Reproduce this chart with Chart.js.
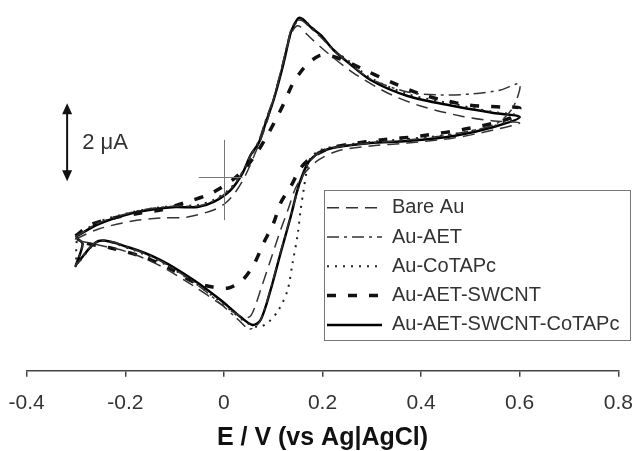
<!DOCTYPE html>
<html>
<head>
<meta charset="utf-8">
<script src="https://cdn.jsdelivr.net/npm/chart.js@4"></script>
<style>
  html, body { margin: 0; padding: 0; background: #fff; }
  canvas { display: block; }
</style>
</head>
<body>
<canvas id="c" width="634" height="451"></canvas>
<script>
// ---- Data (E in V vs Ag|AgCl, I in µA; loops traced along each CV) ----
const seriesNames = ['Bare Au', 'Au-AET', 'Au-CoTAPc', 'Au-AET-SWCNT', 'Au-AET-SWCNT-CoTAPc'];

const bareAuE = [-0.301,-0.2542,-0.1852,-0.1284,-0.0736,-0.0209,0.0034,0.0237,0.0440,0.0602,0.0744,0.0886,0.1028,0.1170,0.1292,0.1393,0.1475,0.1556,0.1698,0.2103,0.2631,0.3321,0.3990,0.4801,0.5471,0.6,
  0.5471,0.4659,0.3726,0.2976,0.2306,0.1921,0.1657,0.1454,0.1312,0.1150,0.0947,0.0744,0.0643,0.0542,0.0420,0.0258,-0.0067,-0.0615,-0.1284,-0.1953,-0.2542,-0.301];
const bareAuI = [-1.582,-1.326,-1.121,-1.044,-1.018,-0.838,-0.659,-0.377,0.059,0.521,0.956,1.469,2.110,2.803,3.392,3.751,3.879,3.854,3.649,3.187,2.674,2.162,1.828,1.572,1.444,1.392,
  1.213,1.008,0.879,0.803,0.674,0.444,0.136,-0.274,-0.787,-1.351,-2.121,-2.890,-3.274,-3.556,-3.608,-3.505,-3.249,-2.787,-2.274,-1.915,-1.736,-1.608];

const auAetE = [-0.301,-0.2542,-0.1852,-0.1386,-0.0980,-0.0533,-0.0209,0.0136,0.0379,0.0542,0.0704,0.0846,0.1008,0.1191,0.1353,0.1434,0.1495,0.1596,0.1759,0.1961,0.2225,0.2509,0.2976,0.3726,0.4395,0.5004,0.5613,0.6,
  0.5856,0.5511,0.4659,0.3726,0.2976,0.2306,0.1961,0.1718,0.1556,0.1454,0.1333,0.1130,0.0927,0.0724,0.0521,0.0298,-0.0108,-0.0615,-0.1284,-0.1953,-0.2542,-0.2988,-0.3008,-0.2866,-0.2988];
const auAetI = [-1.531,-1.172,-0.890,-0.787,-0.736,-0.736,-0.608,-0.300,0.136,0.572,0.930,1.469,2.033,2.905,3.751,3.956,4.033,4.008,3.828,3.597,3.264,2.956,2.521,2.187,2.110,2.136,2.238,2.392,
  1.777,1.367,1.110,0.956,0.879,0.777,0.649,0.367,-0.121,-0.531,-1.095,-1.992,-2.941,-3.710,-3.890,-3.659,-3.197,-2.685,-2.146,-1.787,-1.633,-2.223,-2.274,-1.710,-1.556];

const auCoTAPcE = [-0.301,-0.2542,-0.1852,-0.1386,-0.0980,-0.0533,-0.0209,0.0095,0.0339,0.0542,0.0704,0.0846,0.1008,0.1191,0.1353,0.1434,0.1515,0.1617,0.1759,0.1961,0.2225,0.2509,0.2976,0.3726,0.4659,0.5471,0.6,
  0.5471,0.4659,0.3726,0.2976,0.2306,0.1961,0.1759,0.1677,0.1617,0.1556,0.1495,0.1393,0.1292,0.1109,0.0907,0.0704,0.0440,-0.0067,-0.0615,-0.1284,-0.1953,-0.2542,-0.2968,-0.2988];
const auCoTAPcI = [-1.531,-1.146,-0.890,-0.787,-0.736,-0.710,-0.582,-0.326,0.059,0.521,0.880,1.415,1.982,2.854,3.700,3.905,4.059,4.033,3.879,3.623,3.264,3.008,2.546,2.136,1.879,1.674,1.572,
  1.315,1.110,0.982,0.905,0.803,0.700,0.495,0.136,-0.326,-0.838,-1.479,-2.197,-2.890,-3.403,-3.710,-3.838,-3.710,-3.197,-2.685,-2.172,-1.813,-1.633,-2.172,-1.556];

const auAetSwcntE = [-0.301,-0.2704,-0.2237,-0.1690,-0.1284,-0.0817,-0.0331,-0.0067,0.0176,0.0440,0.0704,0.0907,0.1069,0.1211,0.1393,0.1556,0.1718,0.1921,0.2083,0.2367,0.2773,0.3382,0.4051,0.4943,0.5613,0.6,
  0.5815,0.5004,0.3990,0.3179,0.2570,0.2164,0.1819,0.1556,0.1373,0.1150,0.1008,0.0805,0.0602,0.0379,0.0095,-0.0229,-0.0615,-0.1081,-0.1629,-0.2298,-0.2805,-0.301];
const auAetSwcntI = [-1.505,-1.218,-1.044,-0.915,-0.838,-0.659,-0.454,-0.274,-0.069,0.238,0.700,1.136,1.521,1.879,2.392,2.700,2.931,3.110,3.136,3.033,2.802,2.444,2.110,1.854,1.803,1.777,
  1.521,1.264,1.059,0.956,0.854,0.751,0.546,0.238,-0.197,-0.659,-1.172,-1.685,-2.249,-2.633,-2.838,-2.813,-2.685,-2.351,-2.044,-1.813,-1.685,-1.556];

const auAetSwcntCoE = [-0.301,-0.2542,-0.1852,-0.1386,-0.0980,-0.0533,-0.0209,0.0136,0.0379,0.0542,0.0704,0.0846,0.1008,0.1191,0.1353,0.1434,0.1515,0.1596,0.1759,0.1961,0.2225,0.2509,0.2976,0.3726,0.4659,0.5471,0.6,
  0.5471,0.4659,0.3726,0.2976,0.2306,0.1961,0.1718,0.1556,0.1475,0.1353,0.1150,0.0947,0.0744,0.0582,0.0339,-0.0067,-0.0615,-0.1284,-0.1953,-0.2542,-0.2988,-0.3008,-0.2866,-0.2988];
const auAetSwcntCoI = [-1.531,-1.197,-0.915,-0.813,-0.762,-0.762,-0.633,-0.326,0.110,0.572,0.877,1.390,1.982,2.828,3.700,3.931,4.085,4.059,3.854,3.649,3.264,2.956,2.495,2.085,1.828,1.649,1.546,
  1.290,1.059,0.931,0.879,0.777,0.649,0.392,-0.069,-0.403,-1.018,-1.941,-2.890,-3.659,-3.787,-3.582,-3.146,-2.633,-2.121,-1.787,-1.633,-2.223,-2.274,-1.710,-1.556];

const xTickValues = [-0.4, -0.2, 0, 0.2, 0.4, 0.6, 0.8];
const xTickLabels = ['-0.4', '-0.2', '0', '0.2', '0.4', '0.6', '0.8'];
const xTitle = 'E / V (vs Ag|AgCl)';
const scaleBarText = '2 \u03bcA';
const scaleBarE = -0.318;          // position of the 2 µA bar
const scaleBarFrom = -0.1, scaleBarTo = 1.9;
const crossE = [-0.051, 0.038];    // crosshair at the origin
const crossI = [0.96, -1.10];

// ---- styles ----
const FONT = "'Liberation Sans', Arial, Helvetica, sans-serif";
const styles = [
  { color: '#333', width: 1.5, dash: [12, 7] },
  { color: '#333', width: 1.5, dash: [12, 5, 3, 5] },
  { color: '#222', width: 2,   dash: [2, 6] },
  { color: '#111', width: 3.5, dash: [9, 12] },
  { color: '#000', width: 2.5, dash: [] }
];
const seriesE = [bareAuE, auAetE, auCoTAPcE, auAetSwcntE, auAetSwcntCoE];
const seriesI = [bareAuI, auAetI, auCoTAPcI, auAetSwcntI, auAetSwcntCoI];

const datasets = seriesNames.map((name, k) => ({
  label: name,
  data: seriesE[k].map((e, i) => ({ x: e, y: seriesI[k][i] })),
  showLine: true,
  borderColor: styles[k].color,
  backgroundColor: styles[k].color,
  borderWidth: styles[k].width,
  borderDash: styles[k].dash,
  pointRadius: 0,
  pointHoverRadius: 0,
  tension: 0.3,
  fill: false
}));

const extras = {
  id: 'extras',
  beforeDraw(chart) {
    const lg = chart.legend;
    if (!lg) return;
    lg.left = 317.7; lg.top = 188.4;
    lg.right = chart.width; lg.bottom = chart.height;
    lg.width = lg.right - lg.left; lg.height = lg.bottom - lg.top;
  },
  afterDraw(chart) {
    const ctx = chart.ctx, xs = chart.scales.x, ys = chart.scales.y;
    ctx.save();
    // legend frame
    ctx.strokeStyle = '#777'; ctx.lineWidth = 1;
    ctx.strokeRect(324.5, 190.5, 306, 150);
    // crosshair at origin
    ctx.strokeStyle = '#777'; ctx.lineWidth = 1;
    const x0 = Math.round(xs.getPixelForValue(0)) + 0.5;
    const y0 = Math.round(ys.getPixelForValue(0)) + 0.5;
    ctx.beginPath();
    ctx.moveTo(xs.getPixelForValue(crossE[0]), y0);
    ctx.lineTo(xs.getPixelForValue(crossE[1]), y0);
    ctx.moveTo(x0, ys.getPixelForValue(crossI[0]));
    ctx.lineTo(x0, ys.getPixelForValue(crossI[1]));
    ctx.stroke();
    // scale bar
    const bx = xs.getPixelForValue(scaleBarE);
    const bTop = ys.getPixelForValue(scaleBarTo);
    const bBot = ys.getPixelForValue(scaleBarFrom);
    ctx.strokeStyle = '#111'; ctx.fillStyle = '#111'; ctx.lineWidth = 2;
    ctx.beginPath();
    ctx.moveTo(bx, bTop + 8); ctx.lineTo(bx, bBot - 8);
    ctx.stroke();
    ctx.beginPath();
    ctx.moveTo(bx, bTop); ctx.lineTo(bx - 5, bTop + 11); ctx.lineTo(bx + 5, bTop + 11); ctx.closePath();
    ctx.moveTo(bx, bBot); ctx.lineTo(bx - 5, bBot - 11); ctx.lineTo(bx + 5, bBot - 11); ctx.closePath();
    ctx.fill();
    ctx.fillStyle = '#333';
    ctx.font = '22px ' + FONT;
    ctx.textAlign = 'left'; ctx.textBaseline = 'middle';
    ctx.fillText(scaleBarText, bx + 15, (bTop + bBot) / 2 + 1);
    ctx.restore();
  }
};

new Chart(document.getElementById('c'), {
  type: 'scatter',
  data: { datasets },
  options: {
    responsive: false,
    devicePixelRatio: 1,
    animation: false,
    layout: { padding: { left: 26.7, right: 15.7, top: 0, bottom: 5.3 } },
    plugins: {
      tooltip: { enabled: false },
      legend: {
        display: true,
        position: 'chartArea',
        align: 'start',
        labels: {
          usePointStyle: true,
          pointStyleWidth: 55,
          padding: 9.3,
          color: '#333',
          font: { family: FONT, size: 20 },
          generateLabels: (chart) => chart.data.datasets.map((ds, i) => ({
            text: ds.label,
            datasetIndex: i,
            fillStyle: ds.borderColor,
            strokeStyle: ds.borderColor,
            lineWidth: ds.borderWidth,
            lineDash: ds.borderDash,
            lineCap: 'butt',
            pointStyle: 'line',
            fontColor: '#333',
            hidden: false
          }))
        }
      }
    },
    scales: {
      x: {
        type: 'linear',
        position: 'bottom',
        min: -0.4,
        max: 0.8,
        afterBuildTicks: (scale) => { scale.ticks = xTickValues.map(v => ({ value: v })); },
        border: { display: true, color: '#444', width: 1.5 },
        grid: { display: true, drawOnChartArea: false, drawTicks: true, tickLength: 6, color: '#444', lineWidth: 1.5 },
        ticks: {
          padding: 1,
          color: '#333',
          font: { family: FONT, size: 21, lineHeight: 2.476 },
          maxRotation: 0,
          callback: (v, i) => xTickLabels[i]
        },
        title: {
          display: true,
          text: xTitle,
          color: '#111',
          padding: { top: 0, bottom: 0 },
          font: { family: FONT, size: 25, weight: 'bold', lineHeight: 0.6 }
        }
      },
      y: {
        type: 'linear',
        display: false,
        min: -4.959,
        max: 4.546
      }
    }
  },
  plugins: [extras]
});
</script>
</body>
</html>
